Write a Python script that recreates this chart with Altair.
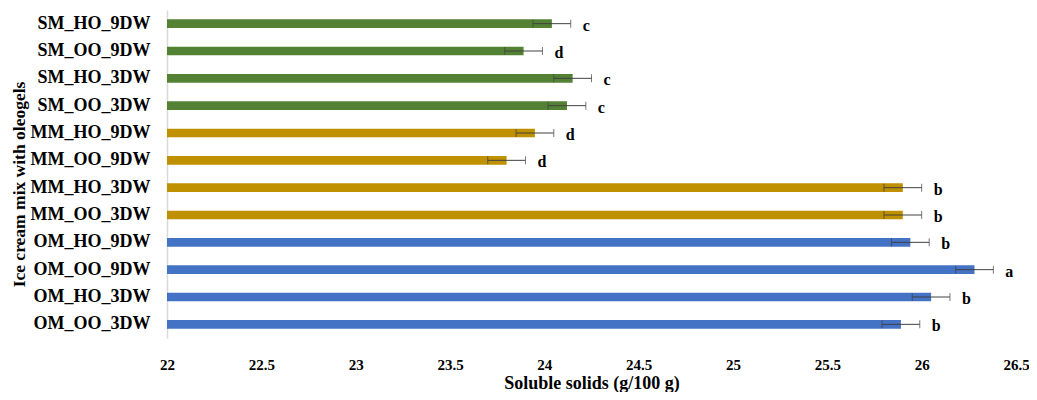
import altair as alt
import pandas as pd

samples = ["SM_HO_9DW", "SM_OO_9DW", "SM_HO_3DW", "SM_OO_3DW",
           "MM_HO_9DW", "MM_OO_9DW", "MM_HO_3DW", "MM_OO_3DW",
           "OM_HO_9DW", "OM_OO_9DW", "OM_HO_3DW", "OM_OO_3DW"]
values = [24.04, 23.89, 24.15, 24.12, 23.95, 23.80, 25.90, 25.90, 25.94, 26.28, 26.05, 25.89]
errors = [0.10, 0.10, 0.10, 0.10, 0.10, 0.10, 0.10, 0.10, 0.10, 0.10, 0.10, 0.10]
letters = ["c", "d", "c", "c", "d", "d", "b", "b", "b", "a", "b", "b"]
groups = ["SM"] * 4 + ["MM"] * 4 + ["OM"] * 4
group_names = ["SM", "MM", "OM"]
group_colors = ["#548235", "#BF9000", "#4472C4"]
x_ticks = [22, 22.5, 23, 23.5, 24, 24.5, 25, 25.5, 26, 26.5]

df = pd.DataFrame({
    "sample": samples,
    "value": values,
    "err": errors,
    "letter": letters,
    "group": groups,
})
df["lo"] = df["value"] - df["err"]
df["hi"] = df["value"] + df["err"]

FONT = "Liberation Serif"

y_enc = alt.Y("sample:N", sort=samples,
              scale=alt.Scale(paddingInner=0.68, paddingOuter=0.34),
              axis=alt.Axis(title="Ice cream mix with oleogels", titleFont=FONT,
                            titleFontSize=17.5, titleFontWeight="bold", titleColor="#000",
                            titleX=-143, titleY=174, titleBaseline="alphabetic", titleAngle=270,
                            titleAlign="center",
                            labelFont=FONT, labelFontSize=18, labelFontWeight="bold",
                            labelColor="#000", labelPadding=17, ticks=False,
                            domainColor="#d9d9d9", domainWidth=1.5))
x_scale = alt.Scale(domain=[22, 26.5], nice=False, zero=False, clamp=True)

base = alt.Chart(df)

bars = base.mark_bar(orient="horizontal").encode(
    y=y_enc,
    x=alt.X("value:Q", scale=x_scale,
            axis=alt.Axis(title="Soluble solids (g/100 g)", titleFont=FONT, titleFontSize=18,
                          titleFontWeight="bold", titleColor="#000",
                          titleY=50, titleBaseline="alphabetic",
                          labelFont=FONT, labelFontSize=15, labelFontWeight="bold",
                          labelColor="#000", labelPadding=19, ticks=False, domain=False,
                          grid=False, values=x_ticks, labelFlush=False, format="~g")),
    x2=alt.datum(22),
    color=alt.Color("group:N", scale=alt.Scale(domain=group_names, range=group_colors), legend=None),
)

err_rule = base.mark_rule(color="#404040", strokeWidth=1).encode(
    y=alt.Y("sample:N", sort=samples), x="lo:Q", x2="hi:Q")
cap_lo = base.mark_tick(color="#404040", orient="vertical", size=8, thickness=1).encode(
    y=alt.Y("sample:N", sort=samples), x="lo:Q")
cap_hi = base.mark_tick(color="#404040", orient="vertical", size=8, thickness=1).encode(
    y=alt.Y("sample:N", sort=samples), x="hi:Q")
labels = base.mark_text(align="left", baseline="middle", dx=12, dy=2, font=FONT,
                        fontSize=16, fontWeight="bold", color="#000").encode(
    y=alt.Y("sample:N", sort=samples), x="hi:Q", text="letter:N")

chart = alt.layer(bars, err_rule, cap_lo, cap_hi, labels).properties(
    width=849, height=328,
    background="white",
    autosize=alt.AutoSizeParams(type="none"),
    padding={"left": 159, "top": 2, "right": 13, "bottom": 54},
).configure_view(strokeWidth=0, stroke=None)

chart.save("out.html", embed_options={"renderer": "svg", "actions": False})
